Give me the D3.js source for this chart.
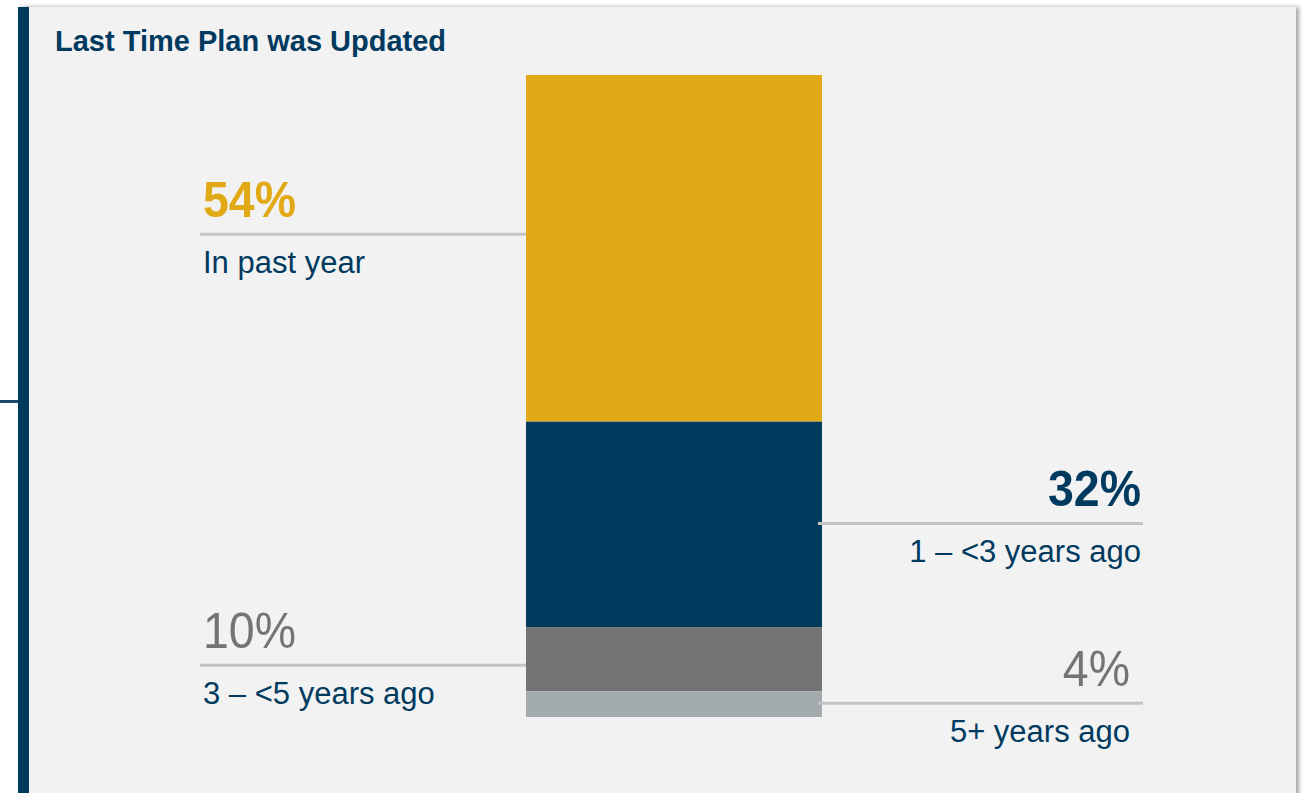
<!DOCTYPE html>
<html>
<head>
<meta charset="utf-8">
<script src="https://cdn.jsdelivr.net/npm/d3@7"></script>
<style>
  html, body { margin: 0; padding: 0; background: #ffffff; }
  svg { display: block; }
</style>
</head>
<body>
<div id="chart"></div>
<script>
// --- Data ---
const categories = ["In past year", "1 \u2013 <3 years ago", "3 \u2013 <5 years ago", "5+ years ago"];
const shares = [54, 32, 10, 4];
const valueLabels = ["54%", "32%", "10%", "4%"];
const chartTitle = "Last Time Plan was Updated";

// --- Constants ---
const WIDTH = 1304;
const HEIGHT = 793;
const NAVY = "#003a5f";
const SEGMENT_COLORS = ["#e2a917", "#003a5f", "#737473", "#a3abad"];
const VALUE_COLORS = ["#e2a917", "#003a5f", "#737473", "#737473"];
const VALUE_WEIGHTS = ["bold", "bold", "normal", "normal"];
const BAR = { x0: 526, x1: 822, top: 75, bottom: 717 };
const FONT = "'Liberation Sans', Arial, sans-serif";

// label layout: which side, nudge of the leader line from segment middle, right text inset
const LABEL_SIDE = ["left", "right", "left", "right"];
const LINE_NUDGE = [-14, -1, 6, -1];
const RIGHT_INSET = [0, 2, 0, 13];
const LEFT_LINE = { x0: 200, x1: 526, textX: 203 };
const RIGHT_LINE = { x0: 818, x1: 1143 };
const NUMBER_SQUEEZE = 0.93; // the original font is a bit condensed

const svg = d3.select("#chart")
  .append("svg")
  .attr("width", WIDTH)
  .attr("height", HEIGHT);

const defs = svg.append("defs");
const shadow = defs.append("filter")
  .attr("id", "panelShadow")
  .attr("x", "-5%").attr("y", "-5%")
  .attr("width", "110%").attr("height", "110%");
shadow.append("feDropShadow")
  .attr("dx", 3).attr("dy", 0)
  .attr("stdDeviation", 2)
  .attr("flood-color", "#000")
  .attr("flood-opacity", 0.35);

// panel
svg.append("rect")
  .attr("x", 18).attr("y", 7)
  .attr("width", 1278).attr("height", 820)
  .attr("fill", "#f2f2f2")
  .attr("filter", "url(#panelShadow)");

svg.append("rect")
  .attr("x", 18).attr("y", 7)
  .attr("width", 11).attr("height", 820)
  .attr("fill", NAVY);

// little connector tick on the far left
svg.append("line")
  .attr("x1", 0).attr("x2", 18)
  .attr("y1", 401.5).attr("y2", 401.5)
  .attr("stroke", "#1b4a6b")
  .attr("stroke-width", 3);

svg.append("text")
  .attr("x", 55).attr("y", 51)
  .attr("font-family", FONT)
  .attr("font-size", 29)
  .attr("font-weight", "bold")
  .attr("fill", NAVY)
  .text(chartTitle);

// --- Scales ---
const y = d3.scaleLinear()
  .domain([0, d3.sum(shares)])
  .range([BAR.top, BAR.bottom]);

const cumulative = d3.cumsum(shares);
const segments = shares.map((v, i) => ({
  i,
  name: categories[i],
  start: cumulative[i] - v,
  end: cumulative[i]
}));

// --- Bar ---
svg.append("g")
  .selectAll("rect")
  .data(segments)
  .join("rect")
  .attr("x", BAR.x0)
  .attr("width", BAR.x1 - BAR.x0)
  .attr("y", d => y(d.start))
  .attr("height", d => y(d.end) - y(d.start))
  .attr("fill", d => SEGMENT_COLORS[d.i]);

// --- Labels ---
const labels = svg.append("g")
  .selectAll("g")
  .data(segments)
  .join("g")
  .attr("transform", d => {
    const ly = y((d.start + d.end) / 2) + LINE_NUDGE[d.i];
    return `translate(0,${ly})`;
  });

labels.append("line")
  .attr("x1", d => LABEL_SIDE[d.i] === "left" ? LEFT_LINE.x0 : RIGHT_LINE.x0)
  .attr("x2", d => LABEL_SIDE[d.i] === "left" ? LEFT_LINE.x1 : RIGHT_LINE.x1)
  .attr("y1", 0).attr("y2", 0)
  .attr("stroke", "#c3c3c3")
  .attr("stroke-width", 3);

const textX = d => LABEL_SIDE[d.i] === "left" ? LEFT_LINE.textX : RIGHT_LINE.x1 - RIGHT_INSET[d.i];
const anchor = d => LABEL_SIDE[d.i] === "left" ? "start" : "end";

labels.append("text")
  .attr("transform", d => `translate(${textX(d)},-17) scale(${NUMBER_SQUEEZE},1)`)
  .attr("text-anchor", anchor)
  .attr("font-family", FONT)
  .attr("font-size", 50)
  .attr("font-weight", d => VALUE_WEIGHTS[d.i])
  .attr("fill", d => VALUE_COLORS[d.i])
  .text(d => valueLabels[d.i]);

labels.append("text")
  .attr("x", textX)
  .attr("y", 39)
  .attr("text-anchor", anchor)
  .attr("font-family", FONT)
  .attr("font-size", 31)
  .attr("fill", NAVY)
  .text(d => d.name);
</script>
</body>
</html>
